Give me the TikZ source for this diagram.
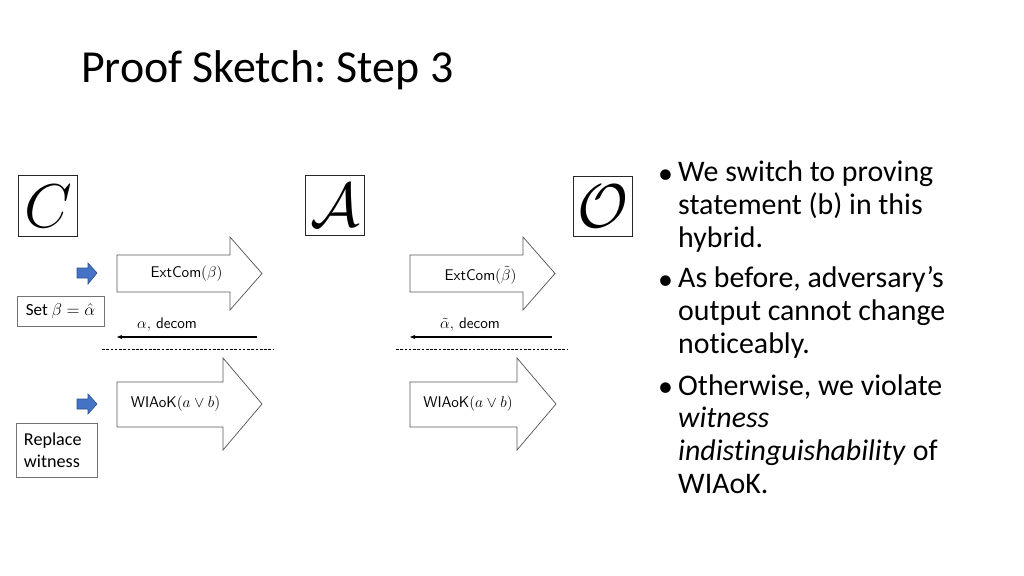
\documentclass[tikz,border=0pt]{standalone}
\usepackage{fix-cm}
\usepackage{fontspec}
\setmainfont[Ligatures=NoCommon]{Carlito}
\usetikzlibrary{arrows.meta}
\frenchspacing

\definecolor{slideblue}{HTML}{4472C4}
\definecolor{slideblueline}{HTML}{2F528F}

\begin{document}
\begin{tikzpicture}[
    x=0.9375pt, y=-0.9375pt,
    party/.style={rectangle, draw=black!85, line width=0.8pt, minimum width=56pt, minimum height=57pt, inner sep=0pt, font=\fontsize{58}{60}\selectfont},
    msgarrow/.style={draw=black!65, line width=0.7pt, fill=white},
    msglabel/.style={inner sep=0pt, font=\fontsize{14.5}{17}\selectfont\sffamily},
    pointer/.style={draw=slideblueline, line width=0.6pt, fill=slideblue},
    note/.style={rectangle, draw=black!55, line width=0.7pt, inner sep=0pt, align=left, font=\fontsize{16}{20.5}\selectfont},
    reply/.style={-{Stealth[length=5pt,width=4pt]}, line width=1.1pt},
    divider/.style={line width=0.6pt, dash pattern=on 2.5pt off 1.5pt},
    bullet/.style={anchor=base west, inner sep=0pt, align=left, font=\fontsize{28}{30.5}\selectfont},
]
\useasboundingbox (0,0) rectangle (1024,576);

% Title
\node[anchor=base west, inner sep=0pt, font=\fontsize{43}{48}\selectfont] (title) at (81,83) {Proof Sketch: Step 3};

% Parties
\node[party] (chal) at (48,206) {$C$};
\node[party] (adv) at (335,205.5) {$\mathcal{A}$};
\node[party] (orac) at (603,206.5) {$\mathcal{O}$};

% Left session: C <-> A
\draw[msgarrow] (117,255) -- (230,255) -- (230,237) -- (262,273.5) -- (230,310) -- (230,292) -- (117,292) -- cycle;
\node[msglabel] (extl) at (186.5,274) {ExtCom$(\beta)$};
\draw[msgarrow] (117,382) -- (223,382) -- (223,358) -- (262,404) -- (223,450) -- (223,427) -- (117,427) -- cycle;
\node[msglabel] (wil) at (175.5,404) {WIAoK$(a\vee b)$};

\coordinate (replyl-start) at (257,337);
\coordinate (replyl-end) at (117,337);
\draw[reply] (replyl-start) -- (replyl-end);
\node[msglabel] (decl) at (167,325) {$\alpha,$ decom};

\coordinate (cutl-a) at (102,349);
\coordinate (cutl-b) at (273,349);
\draw[divider] (cutl-a) -- (cutl-b);

% Right session: A <-> O
\draw[msgarrow] (410,255) -- (523,255) -- (523,237) -- (555,273.5) -- (523,310) -- (523,292) -- (410,292) -- cycle;
\node[msglabel] (extr) at (480.5,275) {ExtCom$(\tilde{\beta})$};
\draw[msgarrow] (410,382) -- (517,382) -- (517,358) -- (556,404) -- (517,450) -- (517,427) -- (410,427) -- cycle;
\node[msglabel] (wir) at (468,404) {WIAoK$(a\vee b)$};

\coordinate (replyr-start) at (552,337);
\coordinate (replyr-end) at (410,337);
\draw[reply] (replyr-start) -- (replyr-end);
\node[msglabel] (decr) at (470,325) {$\tilde{\alpha},$ decom};

\coordinate (cutr-a) at (396,349);
\coordinate (cutr-b) at (567,349);
\draw[divider] (cutr-a) -- (cutr-b);

% Hybrid changes
\draw[pointer] (77,268) -- (88,268) -- (88,263) -- (97,273) -- (88,284) -- (88,278) -- (77,278) -- cycle;
\draw[pointer] (77,399) -- (88,399) -- (88,394) -- (97,404) -- (88,414) -- (88,409) -- (77,409) -- cycle;
\node[note, minimum width=81.5pt, minimum height=28pt] (setbeta) at (60.5,311) {Set $\beta=\hat{\alpha}$};
\node[note, font=\fontsize{17}{20.5}\selectfont, inner xsep=7.5pt, text width=61pt, minimum height=50.6pt] (replace) at (56.5,450) {Replace\\witness};

% Bullets
\node[bullet] (dot1) at (658,183) {•};
\node[bullet] (item1) at (678,247) {We switch to proving\\statement (b) in this\\hybrid.};
\node[bullet] (dot2) at (658,289) {•};
\node[bullet] (item2) at (678,353) {As before, adversary’s\\output cannot change\\noticeably.};
\node[bullet] (dot3) at (658,396) {•};
\node[bullet] (item3) at (678,493) {Otherwise, we violate\\\textit{witness}\\\textit{indistinguishability} of\\WIAoK.};

\end{tikzpicture}
\end{document}
